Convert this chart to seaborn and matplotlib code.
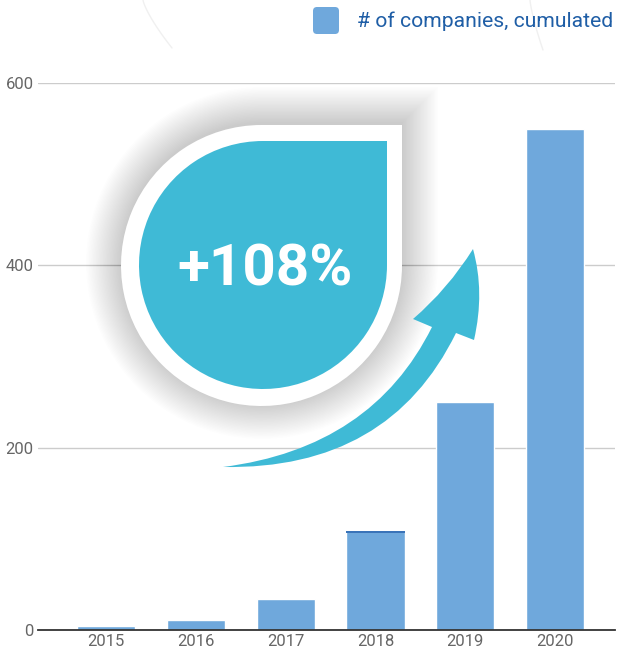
import numpy as np
import pandas as pd
import seaborn as sns
import matplotlib.pyplot as plt
from matplotlib.path import Path
from matplotlib.patches import PathPatch, FancyBboxPatch
from matplotlib.transforms import Affine2D

# data
years = ["2015", "2016", "2017", "2018", "2019", "2020"]
companies = [4, 11, 34, 109, 250, 549]
top_strip = [0, 0, 0, 2.5, 0, 0]  # thin darker cap on the 2018 bar
y_ticks = [0, 200, 400, 600]
legend_label = "# of companies, cumulated"
badge_text = "+108%"

BAR = "#6fa8dc"
TEAL = "#3fbad6"

sns.set_style("white")
plt.rcParams["font.family"] = ["Roboto", "DejaVu Sans"]

W, H = 618, 655
fig = plt.figure(figsize=(W / 100, H / 100), dpi=100)
ax = fig.add_axes([38 / W, 25 / H, 577 / W, 547 / H])

df = pd.DataFrame({"year": years, "companies": companies})
sns.barplot(data=df, x="year", y="companies", color=BAR, saturation=1,
            width=0.65, ax=ax, zorder=3)
# darker strip on top of the 2018 bar
ax.bar(range(len(years)), top_strip,
       bottom=np.array(companies) - np.array(top_strip),
       width=0.65, color="#3a73b8", linewidth=0, zorder=4)

ax.set_ylim(0, 600)
ax.set_xlim(-0.76, 5.67)
ax.set_yticks(y_ticks)
ax.set_yticklabels([str(t) for t in y_ticks])
ax.yaxis.grid(True, color="#cccccc", lw=1)
ax.set_axisbelow(True)
for s in ["top", "right", "left"]:
    ax.spines[s].set_visible(False)
ax.spines["bottom"].set_color("#333333")
ax.spines["bottom"].set_linewidth(1.3)
ax.spines["bottom"].set_zorder(5)
ax.tick_params(axis="both", length=0, labelsize=12, labelcolor="#666666")
ax.tick_params(axis="y", pad=3)
ax.tick_params(axis="x", pad=3)
ax.set_xlabel("")
ax.set_ylabel("")

# pixel coords (y down) -> figure
px = Affine2D().scale(1 / W, -1 / H).translate(0, 1) + fig.transFigure


def teardrop(cx, cy, r):
    # circle with a square top-right corner, in pixel coords (y down)
    arc = Path.arc(90, 360)
    verts = [(cx + r * x, cy - r * y) for x, y in arc.vertices]
    verts += [(cx + r, cy - r), (cx, cy - r)]
    codes = list(arc.codes) + [Path.LINETO, Path.CLOSEPOLY]
    return Path(verts, codes)


# soft shadow
for k in range(26):
    fig.add_artist(PathPatch(teardrop(262, 263, 141 + 1.4 * k), transform=px,
                             facecolor="black", edgecolor="none",
                             alpha=0.0075, zorder=5))
fig.add_artist(PathPatch(teardrop(261.5, 265.5, 140.5), transform=px,
                         facecolor="white", edgecolor="none", zorder=6))
fig.add_artist(PathPatch(teardrop(263, 265, 124), transform=px,
                         facecolor=TEAL, edgecolor="none", zorder=7))
fig.text(265 / W, 1 - 270 / H, badge_text, ha="center", va="center",
         fontsize=42, fontweight="bold", color="white", zorder=8)

# curved arrow
arrow_verts = [
    (223, 467),
    (389, 470), (456, 333),      # outer edge to shaft end
    (474, 340),                  # right barb
    (485, 292), (473, 249),      # to tip
    (448, 289), (413, 319),      # left barb
    (432, 327),                  # notch
    (372, 448), (223, 467),      # inner edge back to tail
    (223, 467),
]
arrow_codes = [Path.MOVETO,
               Path.CURVE3, Path.CURVE3,
               Path.LINETO,
               Path.CURVE3, Path.CURVE3,
               Path.CURVE3, Path.CURVE3,
               Path.LINETO,
               Path.CURVE3, Path.CURVE3,
               Path.CLOSEPOLY]
fig.add_artist(PathPatch(Path(arrow_verts, arrow_codes), transform=px,
                         facecolor=TEAL, edgecolor="none", zorder=7))

# faint background arcs at the top
t = np.linspace(0, 1, 30)
fig.add_artist(plt.Line2D(143 + 29 * t ** 1.3, 48 * t, transform=px,
                          color="#f0f0f0", lw=1, zorder=1))
fig.add_artist(plt.Line2D(530 + 13 * t ** 1.3, 50 * t, transform=px,
                          color="#f0f0f0", lw=1, zorder=1))

# legend
fig.add_artist(FancyBboxPatch((313, 7), 26, 27, transform=px,
                              boxstyle="round,pad=0,rounding_size=4",
                              facecolor=BAR, edgecolor="none", zorder=6))
fig.text(357 / W, 1 - 21 / H, legend_label, ha="left", va="center",
         fontsize=15.2, color="#1f5ea6")

fig.savefig("out.png", dpi=100)
plt.close(fig)
